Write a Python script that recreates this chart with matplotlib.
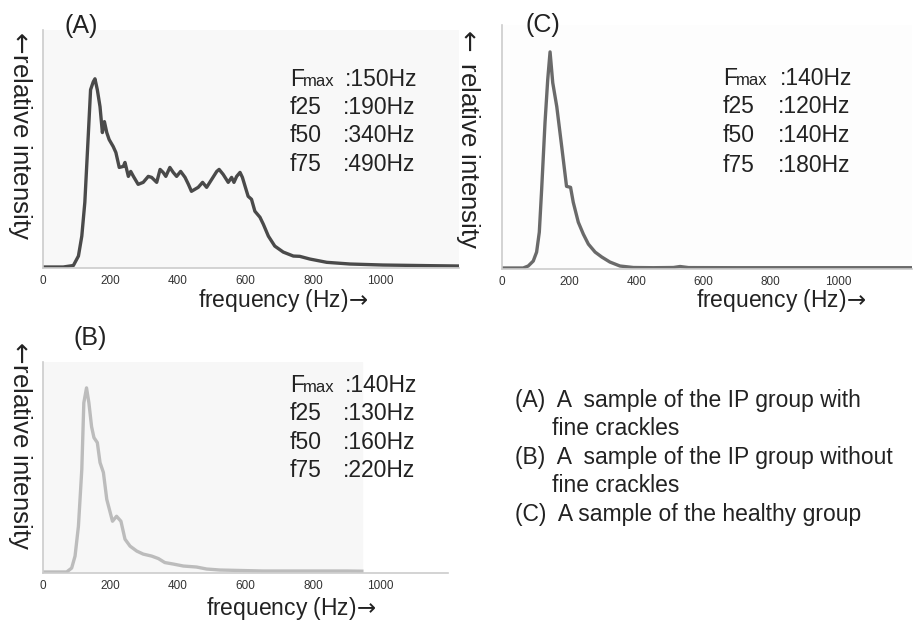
import matplotlib
matplotlib.use("Agg")
from matplotlib import pyplot as plt

plt.rcParams['font.family'] = ['Liberation Sans', 'DejaVu Sans']
plt.rcParams['mathtext.fontset'] = 'dejavusans'

# (A) IP group with fine crackles
freq_a = [0, 60, 90, 105, 115, 124, 134, 141, 149, 154, 161, 169, 176, 182, 189, 196, 208, 216,
          226, 238, 243, 253, 260, 268, 282, 297, 312, 322, 337, 347, 356, 364, 376, 386, 396,
          408, 421, 431, 440, 450, 460, 473, 485, 500, 515, 522, 534, 549, 559, 566, 574, 584,
          591, 599, 608, 618, 628, 643, 653, 668, 687, 712, 742, 761, 791, 841, 910, 1007, 1156, 1233]
inten_a = [0, 0, 1.5, 11, 31, 65, 131, 178, 186, 189, 178, 161, 135, 146, 135, 128, 121, 115,
           100, 101, 105, 91, 96, 91, 83, 85, 91, 90, 85, 98, 95, 91, 100, 95, 91,
           96, 90, 83, 76, 78, 80, 85, 80, 88, 96, 98, 93, 85, 90, 85, 91, 95,
           90, 81, 71, 68, 56, 50, 43, 31, 21, 15, 11, 10.7, 8, 4.7, 3, 2, 1.3, 1]

# (B) IP group without fine crackles
freq_b = [0, 70, 85, 95, 105, 115, 121, 129, 136, 144, 151, 161, 169, 179, 189, 199, 206, 218,
          231, 243, 258, 278, 297, 322, 342, 361, 386, 416, 455, 470, 485, 524, 652, 900, 945]
inten_b = [0, 0, 4, 16, 46, 103, 170, 185, 170, 146, 135, 130, 110, 100, 73, 60, 51, 56,
           51, 33, 26, 21, 18, 16, 13.5, 9.5, 8, 6, 5, 4, 3, 2, 1, 1, 0.8]

# (C) healthy group
freq_c = [0, 63, 78, 93, 103, 111, 118, 128, 136, 143, 151, 163, 178, 192, 204, 212, 227, 242,
          257, 277, 297, 321, 351, 391, 450, 510, 530, 555, 700, 1220]
inten_c = [0, 0, 2, 7, 16, 36, 79, 146, 189, 217, 186, 162, 121, 82, 81, 66, 46, 34,
           24, 16, 11, 6, 2, 0.5, 0.3, 0.5, 1.5, 0.4, 0.3, 0.3]

stat_names = ['F', 'f25', 'f50', 'f75']
stats_a = [':150Hz', ':190Hz', ':340Hz', ':490Hz']
stats_b = [':140Hz', ':130Hz', ':160Hz', ':220Hz']
stats_c = [':140Hz', ':120Hz', ':140Hz', ':180Hz']

legend_lines = ['(A)  A  sample of the IP group with', 'fine crackles',
                '(B)  A  sample of the IP group without', 'fine crackles',
                '(C)  A sample of the healthy group']

ticks = [0, 200, 400, 600, 800, 1000]

W, H = 920, 624
fig = plt.figure(figsize=(W / 100, H / 100), dpi=100)


def px(x, y):
    # pixel position (from top-left) -> figure fraction
    return x / W, 1 - y / H


def panel(left, top, right, bottom, xmax, ymax, freq, inten, color, face):
    ax = fig.add_axes([left / W, 1 - bottom / H, (right - left) / W, (bottom - top) / H])
    ax.set_facecolor(face)
    ax.plot(freq, inten, color=color, lw=2.4, solid_joinstyle='round')
    ax.set_xlim(0, xmax)
    ax.set_ylim(-1, ymax)
    for s in ['top', 'right']:
        ax.spines[s].set_visible(False)
    for s in ['left', 'bottom']:
        ax.spines[s].set_color('#cccccc')
        ax.spines[s].set_linewidth(1.2)
    ax.set_yticks([])
    ax.set_xticks(ticks)
    ax.set_xticklabels([str(t) for t in ticks], fontsize=8.5, color='#333333')
    ax.tick_params(axis='x', length=0, pad=5)
    return ax


ax_a = panel(43, 30, 459, 268, 1233, 238, freq_a, inten_a, '#4a4a4a', '#f8f8f8')
ax_c = panel(502, 25, 912, 269, 1220, 244, freq_c, inten_c, '#6a6a6a', '#fdfdfd')
ax_b = panel(43, 362, 459, 573, 1233, 211, freq_b, inten_b, '#bcbcbc', 'white')
ax_b.axvspan(0, 945, color='#f7f7f7', zorder=0)
ax_b.spines['bottom'].set_bounds(0, 1200)

# panel letters
for lab, (x, y) in [('(A)', (81, 26)), ('(C)', (543, 25)), ('(B)', (90, 338))]:
    fig.text(*px(x, y), lab, fontsize=18, ha='center', va='center', color='#222222')

# axis labels
for x, y in [(283, 300), (781, 300), (291, 608)]:
    fig.text(*px(x, y), r'frequency (Hz)$\!\rightarrow$', fontsize=16.5, ha='center', va='center',
             color='#222222')
for x, y, t in [(20, 133, r'$\leftarrow\!$relative intensity'), (468, 137, r'$\leftarrow$ relative intensity'),
                (20, 443, r'$\leftarrow\!$relative intensity')]:
    fig.text(*px(x, y), t, fontsize=18.5, rotation=270, ha='center', va='center', color='#222222')

# Fmax / f25 / f50 / f75 blocks
blocks = [(290, 343, [86, 113.5, 142, 171], stats_a),
          (723, 778, [85, 113, 142.5, 171.5], stats_c),
          (290, 343, [391.5, 420, 449, 477], stats_b)]
for xl, xv, ys, vals in blocks:
    for i, (name, val, y) in enumerate(zip(stat_names, vals, ys)):
        fig.text(*px(xl, y), name, fontsize=16.5, va='baseline', color='#222222')
        # Fmax line sits a little further right
        fig.text(*px(xv + (2 if i == 0 else 0), y), val, fontsize=16.5, va='baseline', color='#222222')
    fig.text(*px(xl + 13, ys[0]), 'max', fontsize=12, va='baseline', color='#222222')

# group descriptions
for t, x, y in zip(legend_lines, [515, 552, 515, 552, 515], [407, 435, 464, 492.5, 521]):
    fig.text(*px(x, y), t, fontsize=16.5, va='baseline', color='#222222')

plt.savefig('out.png', dpi=100)
